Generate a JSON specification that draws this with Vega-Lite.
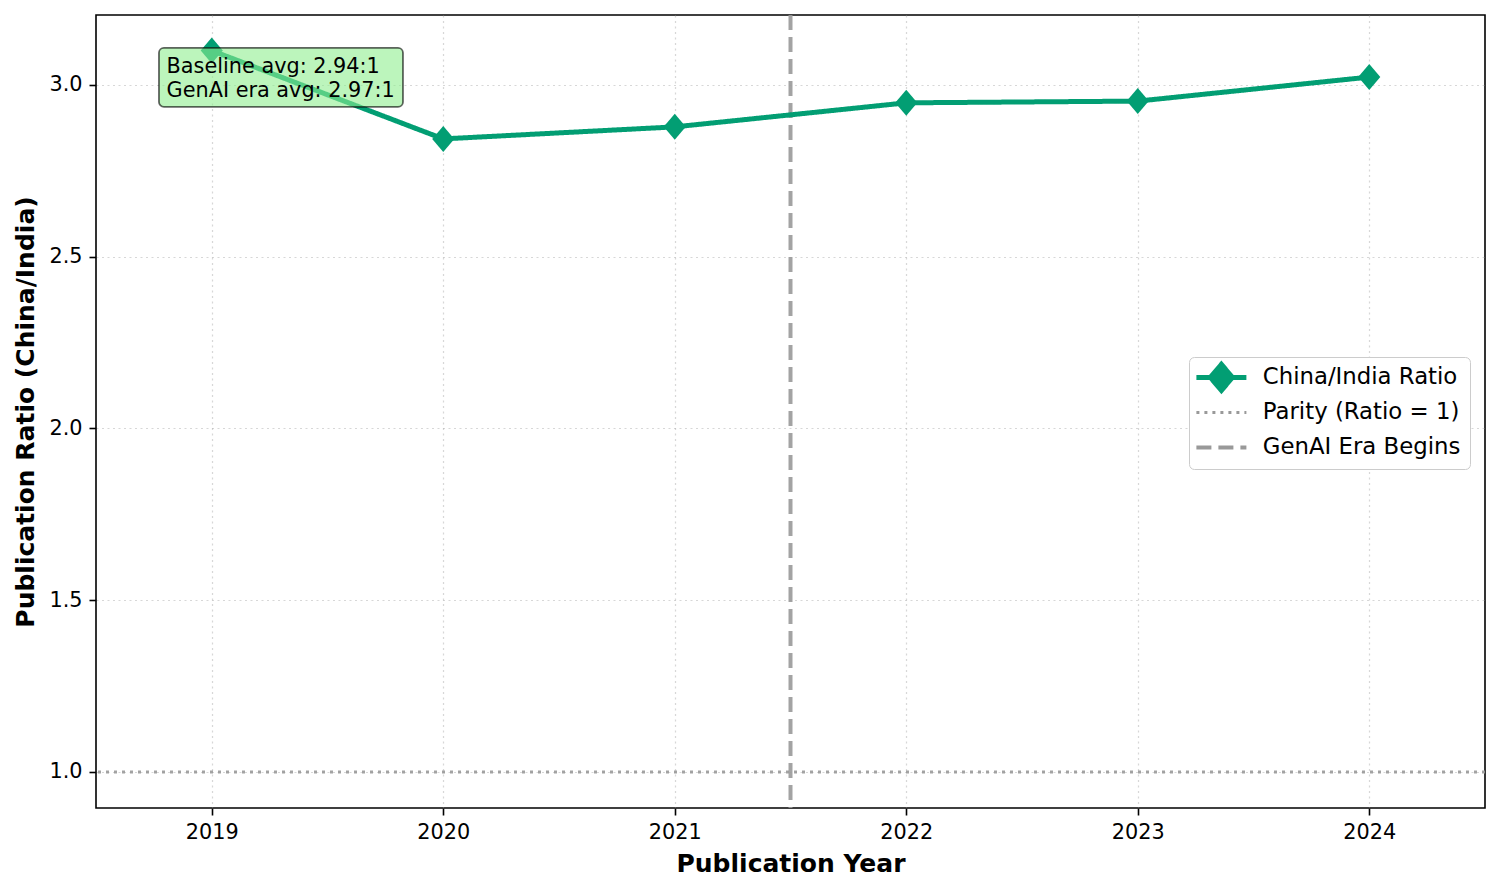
{
  "$schema": "https://vega.github.io/schema/vega-lite/v6.json",
  "width": 1389,
  "height": 793,
  "autosize": {"type": "none"},
  "padding": {"left": 96, "top": 15, "right": 15, "bottom": 84},
  "background": "white",
  "datasets": {
    "ratio": [
      {"year": 2019, "ratio": 3.100, "series": "China/India Ratio"},
      {"year": 2020, "ratio": 2.843, "series": "China/India Ratio"},
      {"year": 2021, "ratio": 2.878, "series": "China/India Ratio"},
      {"year": 2022, "ratio": 2.948, "series": "China/India Ratio"},
      {"year": 2023, "ratio": 2.953, "series": "China/India Ratio"},
      {"year": 2024, "ratio": 3.023, "series": "China/India Ratio"}
    ],
    "parity": [{"ratio": 1, "series": "Parity (Ratio = 1)"}],
    "genai": [{"year": 2021.5, "series": "GenAI Era Begins"}],
    "box": [{"x": 2018.772, "x2": 2019.826, "y": 3.108, "y2": 2.936}],
    "notes": [
      {"x": 2018.805, "y": 3.035, "text": "Baseline avg: 2.94:1"},
      {"x": 2018.805, "y": 2.965, "text": "GenAI era avg: 2.97:1"}
    ]
  },
  "layer": [
    {
      "data": {"name": "parity"},
      "mark": {"type": "rule", "strokeWidth": 3, "opacity": 0.9},
      "encoding": {
        "y": {"field": "ratio", "type": "quantitative"},
        "color": {"field": "series", "type": "nominal"},
        "strokeDash": {"field": "series", "type": "nominal"}
      }
    },
    {
      "data": {"name": "genai"},
      "mark": {"type": "rule", "strokeWidth": 4, "opacity": 0.9},
      "encoding": {
        "x": {"field": "year", "type": "quantitative"},
        "color": {"field": "series", "type": "nominal"},
        "strokeDash": {"field": "series", "type": "nominal"}
      }
    },
    {
      "data": {"name": "ratio"},
      "mark": {"type": "line", "strokeWidth": 5},
      "encoding": {
        "x": {
          "field": "year", "type": "quantitative",
          "scale": {"domain": [2018.5, 2024.5], "nice": false, "zero": false},
          "axis": {"title": "Publication Year", "values": [2019, 2020, 2021, 2022, 2023, 2024], "format": "d", "titlePadding": 10}
        },
        "y": {
          "field": "ratio", "type": "quantitative",
          "scale": {"domain": [0.895, 3.2037], "nice": false, "zero": false},
          "axis": {"title": "Publication Ratio (China/India)", "values": [1.0, 1.5, 2.0, 2.5, 3.0], "format": ".1f", "titlePadding": 10}
        },
        "color": {
          "field": "series", "type": "nominal",
          "scale": {"domain": ["China/India Ratio", "Parity (Ratio = 1)", "GenAI Era Begins"], "range": ["#029E73", "#999999", "#999999"]},
          "legend": {
            "title": null,
            "orient": "none",
            "legendX": 1093,
            "legendY": 342,
            "labelFontSize": 22.8,
            "labelColor": "black",
            "labelLimit": 0,
            "symbolSize": 2500,
            "symbolType": "stroke",
            "symbolOffset": 12,
            "labelOffset": 30,
            "gridAlign": "all",
            "rowPadding": -2,
            "padding": 9,
            "fillColor": "white",
            "strokeColor": "#cccccc",
            "cornerRadius": 5,
            "encode": {
              "symbols": {
                "update": {
                  "shape": {"signal": "datum.value === 'China/India Ratio' ? 'M-1,0L1,0M0,-0.52L0.44,0L0,0.52L-0.44,0Z' : 'stroke'"},
                  "fill": {"signal": "datum.value === 'China/India Ratio' ? '#029E73' : 'transparent'"},
                  "strokeWidth": {"signal": "datum.value === 'China/India Ratio' ? 5 : (datum.value === 'GenAI Era Begins' ? 4 : 3)"}
                }
              }
            }
          }
        },
        "strokeDash": {
          "field": "series", "type": "nominal",
          "scale": {"domain": ["China/India Ratio", "Parity (Ratio = 1)", "GenAI Era Begins"], "range": [[1, 0], [3, 5], [15, 7]]}
        }
      }
    },
    {
      "data": {"name": "ratio"},
      "mark": {"type": "point", "shape": "M0,-1L0.85,0L0,1L-0.85,0Z", "filled": true, "size": 676, "color": "#029E73", "opacity": 1},
      "encoding": {
        "x": {"field": "year", "type": "quantitative"},
        "y": {"field": "ratio", "type": "quantitative"}
      }
    },
    {
      "data": {"name": "box"},
      "mark": {"type": "rect", "fill": "#90EE90", "fillOpacity": 0.6, "stroke": "black", "strokeOpacity": 0.6, "strokeWidth": 1.8, "cornerRadius": 5},
      "encoding": {
        "x": {"field": "x", "type": "quantitative"},
        "x2": {"field": "x2"},
        "y": {"field": "y", "type": "quantitative"},
        "y2": {"field": "y2"}
      }
    },
    {
      "data": {"name": "notes"},
      "mark": {"type": "text", "align": "left", "baseline": "alphabetic", "fontSize": 20.8, "color": "black"},
      "encoding": {
        "x": {"field": "x", "type": "quantitative"},
        "y": {"field": "y", "type": "quantitative"},
        "text": {"field": "text"}
      }
    }
  ],
  "config": {
    "font": "DejaVu Sans",
    "view": {"stroke": "black", "strokeWidth": 1.6},
    "axis": {
      "domain": false,
      "tickColor": "black",
      "tickWidth": 1.6,
      "tickSize": 7,
      "labelFontSize": 20.8,
      "labelColor": "black",
      "labelPadding": 7,
      "titleFontSize": 25,
      "titleFontWeight": "bold",
      "titleColor": "black",
      "grid": true,
      "gridColor": "#b0b0b0",
      "gridOpacity": 0.5,
      "gridDash": [2, 3.5],
      "gridWidth": 1.2
    }
  }
}
